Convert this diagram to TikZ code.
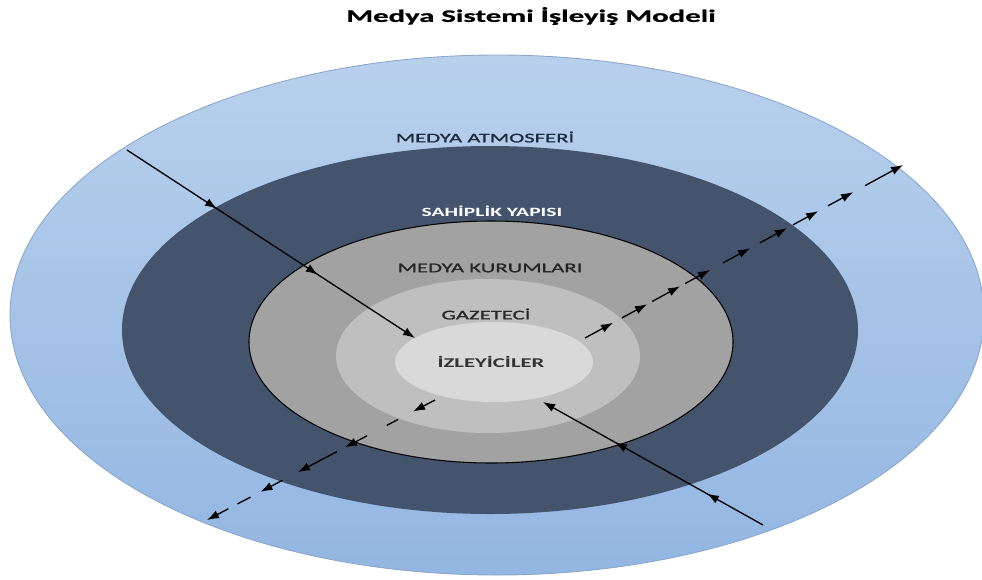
\documentclass[tikz,border=0pt]{standalone}
\usepackage{fontspec}
\usetikzlibrary{shapes.geometric,arrows.meta,calc,decorations.markings}
\newfontfamily\lblfont[FakeStretch=1.7,UprightFeatures={FakeBold=1.2}]{Carlito}
\newfontfamily\titlefont[FakeStretch=1.75,BoldFeatures={FakeBold=0.8}]{Carlito}
\definecolor{atmtop}{HTML}{B8D0EC}
\definecolor{atmbot}{HTML}{93B6E2}
\definecolor{atmedge}{HTML}{8CA7C9}
\definecolor{ownc}{HTML}{44546C}
\definecolor{instc}{HTML}{A2A2A2}
\definecolor{journc}{HTML}{BFBFBF}
\definecolor{audc}{HTML}{D9D9D9}
\definecolor{navytext}{HTML}{1E2B3F}
\tikzset{
  ring/.style={ellipse, inner sep=0pt, outer sep=0pt},
  lbl/.style={inner sep=0pt, font=\lblfont\fontsize{7.6pt}{9pt}\selectfont},
  conn/.style={line width=0.75pt, black},
  tip/.tip={Latex[length=2.4mm,width=1.7mm]}
}
\begin{document}
\begin{tikzpicture}[x=0.2mm,y=-0.2mm]
\useasboundingbox (0,0) rectangle (982,579);
\clip (0,0) rectangle (982,579);
% title
\node[inner sep=0pt, font=\titlefont\bfseries\fontsize{10pt}{12pt}\selectfont, text=black] (title) at (531,16) {Medya Sistemi İşleyiş Modeli};
% rings
\node[ring, draw=atmedge, line width=0.5pt, top color=atmtop, bottom color=atmbot, minimum width=194.8mm, minimum height=104mm] (atm) at (497,315) {};
\node[ring, fill=ownc, minimum width=147.2mm, minimum height=73.6mm] (own) at (490,330) {};
\node[ring, fill=instc, draw=black, line width=0.6pt, minimum width=96.8mm, minimum height=48.4mm] (inst) at (491,342) {};
\node[ring, fill=journc, minimum width=60.8mm, minimum height=30.8mm] (journ) at (488,356) {};
\node[ring, fill=audc, minimum width=39.6mm, minimum height=16mm] (aud) at (494,362) {};
% labels
\node[lbl, text=navytext] (latm) at (485,137) {MEDYA ATMOSFERİ};
\node[lbl, text=white, font=\lblfont\bfseries\fontsize{7.2pt}{9pt}\selectfont] (lown) at (492,211) {SAHİPLİK YAPISI};
\node[lbl, text=black!85] (linst) at (490,268) {MEDYA KURUMLARI};
\node[lbl, text=black!85] (ljourn) at (486,314) {GAZETECİ};
\node[lbl, text=black!80, font=\lblfont\bfseries\fontsize{7.6pt}{9pt}\selectfont] (laud) at (491,362) {İZLEYİCİLER};
% connector end points
\coordinate (inA) at (127,150);
\coordinate (inB) at (415,338);
\coordinate (upA) at (585,338);
\coordinate (upB) at (903,165);
\coordinate (dnA) at (435,400);
\coordinate (dnB) at (207,520);
\coordinate (rtA) at (763,525);
\coordinate (rtB) at (543,402);
% solid incoming arrow (top-left)
\draw[conn, -{tip}, postaction={decorate}, decoration={markings,
  mark=at position 0.3125 with {\arrow{tip}},
  mark=at position 0.663 with {\arrow{tip}}}] (inA) -- (inB);
% solid incoming arrow (bottom-right)
\draw[conn, -{tip}, postaction={decorate}, decoration={markings,
  mark=at position 0.255 with {\arrow{tip}},
  mark=at position 0.673 with {\arrow{tip}}}] (rtA) -- (rtB);
% dashed outgoing arrow chain (up-right)
\foreach \s/\e in {0/0.088, 0.116/0.195, 0.211/0.299, 0.315/0.393, 0.434/0.519, 0.550/0.635, 0.654/0.733, 0.764/0.843, 0.881/1}
  \draw[conn, -{tip}] ($(upA)!\s!(upB)$) -- ($(upA)!\e!(upB)$);
% dashed outgoing arrow chain (down-left)
\foreach \s/\e in {0/0.096, 0.298/0.395, 0.430/0.601, 0.669/0.765, 0.906/1}
  \draw[conn, -{tip}] ($(dnA)!\s!(dnB)$) -- ($(dnA)!\e!(dnB)$);
\foreach \s/\e in {0.162/0.211, 0.809/0.866}
  \draw[conn] ($(dnA)!\s!(dnB)$) -- ($(dnA)!\e!(dnB)$);
\end{tikzpicture}
\end{document}
